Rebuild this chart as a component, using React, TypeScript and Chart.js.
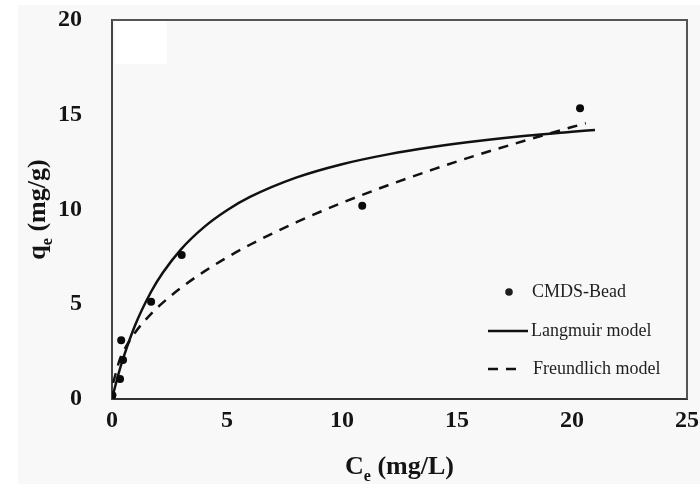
import React, { useEffect, useRef } from "react";
import { Chart, registerables } from "chart.js";

Chart.register(...registerables);

// Equilibrium adsorption data for the CMDS bead
const beadCe = [0.02, 0.35, 0.4, 0.48, 1.7, 3.03, 10.88, 20.35];
const beadQe = [0.2, 1.05, 3.1, 2.06, 5.13, 7.6, 10.2, 15.34];

// Langmuir isotherm curve
const langmuirCe = [0.02, 0.1, 0.35, 0.5, 1, 1.7, 2.2, 3, 4, 5, 6, 8, 10, 12, 14, 16, 18, 20, 21];
const langmuirQe = [0.1, 0.49, 1.61, 2.2, 3.88, 5.66, 6.65, 7.9, 9.07, 9.96, 10.66, 11.68, 12.39, 12.91, 13.31, 13.63, 13.89, 14.1, 14.2];

// Freundlich isotherm curve
const freundlichCe = [0.05, 0.35, 0.5, 1, 1.7, 2.2, 3, 4, 5, 6, 8, 10, 12, 14, 16, 18, 20, 20.6];
const freundlichQe = [0.85, 2.13, 2.52, 3.5, 4.49, 5.07, 5.87, 6.72, 7.47, 8.14, 9.32, 10.35, 11.28, 12.13, 12.92, 13.65, 14.35, 14.55];

// Axis ranges and tick steps
const xRange = [0, 25];
const yRange = [0, 20];
const tickStep = 5;

// Legend entries
const legendLabels = ["CMDS-Bead", "Langmuir model", "Freundlich model"];

const SERIF = "'Liberation Serif', 'Times New Roman', serif";
const INK = "#141414";

const toPoints = (xs: number[], ys: number[]) => xs.map((x, i) => ({ x, y: ys[i] }));

type Part = { text: string; sub?: boolean };

function drawRichText(ctx: CanvasRenderingContext2D, parts: Part[], size: number) {
  const subSize = Math.round(size * 0.6);
  const widths = parts.map((p) => {
    ctx.font = `bold ${p.sub ? subSize : size}px ${SERIF}`;
    return ctx.measureText(p.text).width;
  });
  const total = widths.reduce((a, b) => a + b, 0);
  let x = -total / 2;
  parts.forEach((p, i) => {
    ctx.font = `bold ${p.sub ? subSize : size}px ${SERIF}`;
    ctx.fillText(p.text, x, p.sub ? size * 0.28 : 0);
    x += widths[i];
  });
}

// the frame fixes the plot box itself, so drop the label overhang padding
const clearScalePadding = (scale: any) => {
  scale.paddingTop = 0;
  scale.paddingBottom = 0;
  scale.paddingLeft = 0;
  scale.paddingRight = 0;
};

const decorPlugin = {
  id: "decor",
  beforeDraw(chart: any) {
    const { ctx, width, height, chartArea } = chart;
    ctx.save();
    ctx.fillStyle = "#ffffff";
    ctx.fillRect(0, 0, width, height);
    ctx.fillStyle = "#f8f8f8";
    ctx.fillRect(18, 5, width - 18, height - 5);
    ctx.fillStyle = "#ffffff";
    ctx.fillRect(chartArea.left + 3, chartArea.top + 1, 52, 43);
    ctx.restore();
  },
  afterDraw(chart: any) {
    const { ctx, chartArea } = chart;
    const { left, right, top, bottom } = chartArea;
    ctx.save();

    // frame on top and right
    ctx.strokeStyle = "#555";
    ctx.lineWidth = 2;
    ctx.beginPath();
    ctx.moveTo(left, top);
    ctx.lineTo(right, top);
    ctx.lineTo(right, bottom);
    ctx.stroke();

    // axis titles
    ctx.fillStyle = INK;
    ctx.textBaseline = "alphabetic";
    ctx.textAlign = "left";
    ctx.save();
    ctx.translate((left + right) / 2, 474);
    drawRichText(ctx, [{ text: "C" }, { text: "e", sub: true }, { text: " (mg/L)" }], 26);
    ctx.restore();

    ctx.save();
    ctx.translate(45, (top + bottom) / 2);
    ctx.rotate(-Math.PI / 2);
    drawRichText(ctx, [{ text: "q" }, { text: "e", sub: true }, { text: " (mg/g)" }], 26);
    ctx.restore();

    // legend
    const lx = 488;
    const rows = [292, 331, 369];
    ctx.font = `18px ${SERIF}`;
    ctx.textBaseline = "middle";
    ctx.fillStyle = "#1e1e1e";
    ctx.fillText(legendLabels[0], 532, rows[0]);
    ctx.fillText(legendLabels[1], 531, rows[1]);
    ctx.fillText(legendLabels[2], 533, rows[2]);

    ctx.beginPath();
    ctx.arc(509, rows[0], 3.8, 0, Math.PI * 2);
    ctx.fill();

    ctx.strokeStyle = "#111";
    ctx.lineWidth = 2.5;
    ctx.beginPath();
    ctx.moveTo(lx, rows[1]);
    ctx.lineTo(lx + 40, rows[1]);
    ctx.stroke();

    ctx.setLineDash([10, 8]);
    ctx.beginPath();
    ctx.moveTo(lx, rows[2]);
    ctx.lineTo(lx + 32, rows[2]);
    ctx.stroke();

    ctx.restore();
  },
};

export default function App() {
  const canvasRef = useRef<HTMLCanvasElement | null>(null);

  useEffect(() => {
    document.body.style.margin = "0";
    const canvas = canvasRef.current;
    if (!canvas) return;

    const tickFont = { family: SERIF, size: 24, weight: "bold" as const };

    const chart = new Chart(canvas, {
      type: "scatter",
      data: {
        datasets: [
          {
            label: legendLabels[0],
            data: toPoints(beadCe, beadQe),
            showLine: false,
            pointRadius: 4,
            pointBackgroundColor: "#0a0a0a",
            pointBorderWidth: 0,
            order: 0,
          },
          {
            label: legendLabels[1],
            data: toPoints(langmuirCe, langmuirQe),
            showLine: true,
            borderColor: "#111",
            borderWidth: 2.5,
            pointRadius: 0,
            cubicInterpolationMode: "monotone",
            order: 1,
          },
          {
            label: legendLabels[2],
            data: toPoints(freundlichCe, freundlichQe),
            showLine: true,
            borderColor: "#111",
            borderWidth: 2.5,
            borderDash: [10, 8],
            pointRadius: 0,
            cubicInterpolationMode: "monotone",
            order: 2,
          },
        ],
      },
      options: {
        animation: false,
        responsive: false,
        maintainAspectRatio: false,
        layout: { padding: { left: 0, right: 13, top: 20, bottom: 0 } },
        plugins: {
          legend: { display: false },
          tooltip: { enabled: false },
        },
        scales: {
          x: {
            type: "linear",
            min: xRange[0],
            max: xRange[1],
            grid: { display: false, drawTicks: false },
            border: { display: true, color: "#333", width: 2 },
            ticks: { stepSize: tickStep, font: tickFont, color: INK, padding: 7, maxRotation: 0 },
            afterFit: (scale: any) => {
              scale.height = 85;
              clearScalePadding(scale);
            },
          },
          y: {
            type: "linear",
            min: yRange[0],
            max: yRange[1],
            grid: { display: false, drawTicks: false },
            border: { display: true, color: "#444", width: 2 },
            ticks: { stepSize: tickStep, font: tickFont, color: INK, padding: 30 },
            afterFit: (scale: any) => {
              scale.width = 112;
              clearScalePadding(scale);
            },
          },
        },
      },
      plugins: [decorPlugin],
    });

    return () => chart.destroy();
  }, []);

  return (
    <div style={{ position: "absolute", left: 0, top: 0, width: 700, height: 484 }}>
      <canvas ref={canvasRef} width={700} height={484} style={{ width: 700, height: 484 }} />
    </div>
  );
}
